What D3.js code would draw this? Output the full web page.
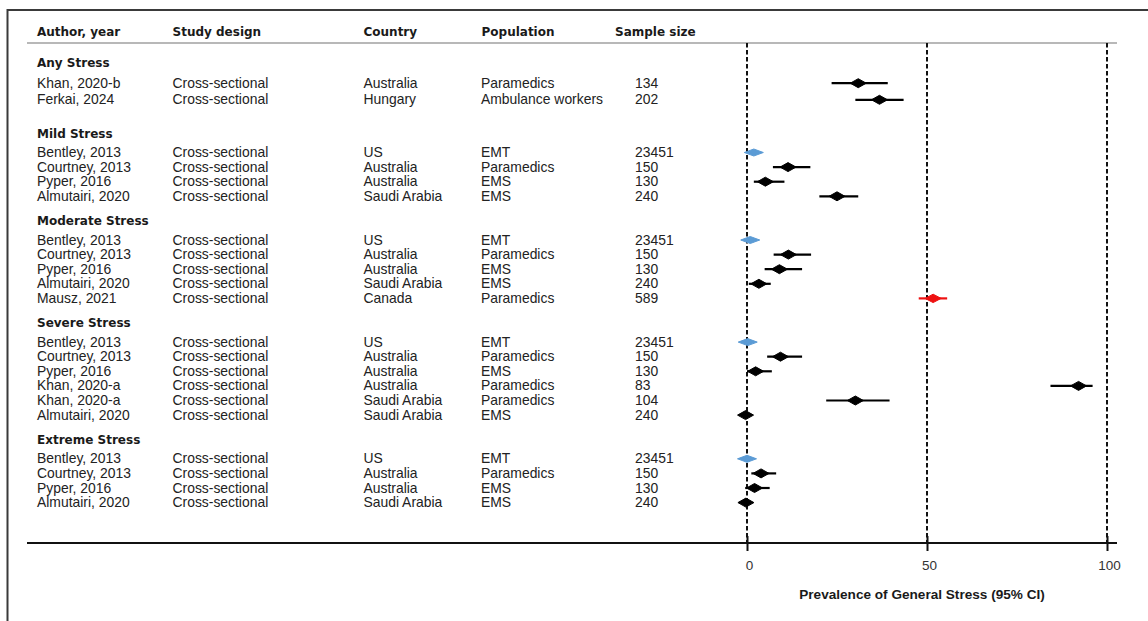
<!DOCTYPE html>
<html>
<head>
<meta charset="utf-8">
<script src="https://cdn.jsdelivr.net/npm/d3@7"></script>
<style>
  body { margin: 0; background: #fff; }
  svg { display: block; }
</style>
</head>
<body>
<svg id="chart" width="1148" height="621"></svg>
<script>
// ---- Data -----------------------------------------------------------
const columnHeaders = ["Author, year", "Study design", "Country", "Population", "Sample size"];
const sections = ["Any Stress", "Mild Stress", "Moderate Stress", "Severe Stress", "Extreme Stress"];

// section index of every study row
const studySection = [0, 0, 1, 1, 1, 1, 2, 2, 2, 2, 2, 3, 3, 3, 3, 3, 3, 4, 4, 4, 4];
const authors = [
  "Khan, 2020-b", "Ferkai, 2024",
  "Bentley, 2013", "Courtney, 2013", "Pyper, 2016", "Almutairi, 2020",
  "Bentley, 2013", "Courtney, 2013", "Pyper, 2016", "Almutairi, 2020", "Mausz, 2021",
  "Bentley, 2013", "Courtney, 2013", "Pyper, 2016", "Khan, 2020-a", "Khan, 2020-a", "Almutairi, 2020",
  "Bentley, 2013", "Courtney, 2013", "Pyper, 2016", "Almutairi, 2020"
];
const designs = authors.map(() => "Cross-sectional");
const countries = [
  "Australia", "Hungary",
  "US", "Australia", "Australia", "Saudi Arabia",
  "US", "Australia", "Australia", "Saudi Arabia", "Canada",
  "US", "Australia", "Australia", "Australia", "Saudi Arabia", "Saudi Arabia",
  "US", "Australia", "Australia", "Saudi Arabia"
];
const populations = [
  "Paramedics", "Ambulance workers",
  "EMT", "Paramedics", "EMS", "EMS",
  "EMT", "Paramedics", "EMS", "EMS", "Paramedics",
  "EMT", "Paramedics", "EMS", "Paramedics", "Paramedics", "EMS",
  "EMT", "Paramedics", "EMS", "EMS"
];
const sampleSizes = [
  134, 202,
  23451, 150, 130, 240,
  23451, 150, 130, 240, 589,
  23451, 150, 130, 83, 104, 240,
  23451, 150, 130, 240
];
// prevalence (%) with 95% confidence interval
const estimates = [
  30.9, 36.8,
  1.9, 11.4, 5.1, 25.0,
  0.9, 11.5, 9.0, 3.3, 51.7,
  0.2, 9.3, 2.4, 92.1, 30.1, -0.4,
  0.0, 3.9, 2.1, -0.3
];
const lowerCI = [
  23.5, 30.1,
  1.5, 7.2, 1.9, 20.1,
  0.5, 7.4, 4.9, 0.5, 47.7,
  -0.2, 5.6, 0.0, 84.3, 22.0, -1.2,
  -0.4, 1.2, -0.5, -1.0
];
const upperCI = [
  39.1, 43.5,
  2.3, 17.6, 10.4, 30.9,
  1.3, 17.8, 15.3, 6.6, 55.6,
  0.6, 15.3, 6.9, 96.0, 39.6, 0.5,
  0.4, 8.1, 6.3, 0.5
];
// marker style per study: "std", "large" (very large sample) or "flag"
const markerKind = [
  "std", "std",
  "large", "std", "std", "std",
  "large", "std", "std", "std", "flag",
  "large", "std", "std", "std", "std", "std",
  "large", "std", "std", "std"
];
const axisTicks = [0, 50, 100];
const axisTitle = "Prevalence of General Stress (95% CI)";

// ---- Layout ---------------------------------------------------------
const svg = d3.select("#chart");
const colX = [37, 172.5, 363.5, 481, 635];
const headerX = [37, 172.5, 363.5, 481.5, 615];
const ruleLeft = 27, ruleRight = 1117;
const headerY = 32, headerRuleY = 43, axisY = 543;

const x = d3.scaleLinear().domain([0, 100]).range([747, 1107]);

// vertical positions: section title, then its study rows
const sectionY = [];
const rowY = [];
{
  let y = 62.7;
  sections.forEach((s, si) => {
    sectionY[si] = y;
    const first = si === 0;
    y += first ? 20 : 18.7;
    const idx = studySection.map((v, i) => v === si ? i : -1).filter(i => i >= 0);
    idx.forEach((i, k) => {
      rowY[i] = y;
      if (k < idx.length - 1) y += first ? 16.6 : 14.6;
    });
    y += first ? 34 : 25;
  });
}

const textFont = "'Liberation Sans', Arial, sans-serif";
const boldFont = "'DejaVu Sans', Verdana, sans-serif";

// outer frame (top and left edges)
svg.append("line").attr("x1", 7).attr("x2", 1148).attr("y1", 10).attr("y2", 10)
  .attr("stroke", "#3a3a3a").attr("stroke-width", 2);
svg.append("line").attr("x1", 7.5).attr("x2", 7.5).attr("y1", 9).attr("y2", 621)
  .attr("stroke", "#3a3a3a").attr("stroke-width", 2);

// column headers
svg.append("g").selectAll("text").data(columnHeaders).join("text")
  .attr("x", (d, i) => headerX[i]).attr("y", headerY).attr("dy", "0.36em")
  .attr("font-family", boldFont).attr("font-weight", "bold").attr("font-size", 12)
  .attr("fill", "#1a1a1a").text(d => d);

svg.append("line").attr("x1", ruleLeft).attr("x2", ruleRight)
  .attr("y1", headerRuleY).attr("y2", headerRuleY)
  .attr("stroke", "#b8b8b8").attr("stroke-width", 2);

// reference lines at the axis ticks
svg.append("g").selectAll("line").data(axisTicks).join("line")
  .attr("x1", d => x(d)).attr("x2", d => x(d))
  .attr("y1", headerRuleY).attr("y2", axisY)
  .attr("stroke", "#111").attr("stroke-width", 2)
  .attr("stroke-dasharray", "4.5,2.5");

// section titles
svg.append("g").selectAll("text").data(sections).join("text")
  .attr("x", colX[0]).attr("y", (d, i) => sectionY[i]).attr("dy", "0.36em")
  .attr("font-family", boldFont).attr("font-weight", "bold").attr("font-size", 12)
  .attr("fill", "#1a1a1a").text(d => d);

// study table
const columns = [authors, designs, countries, populations, sampleSizes];
const table = svg.append("g").attr("font-family", textFont).attr("font-size", 13.9).attr("fill", "#222");
columns.forEach((col, c) => {
  table.append("g").selectAll("text").data(col).join("text")
    .attr("x", colX[c]).attr("y", (d, i) => rowY[i]).attr("dy", "0.36em")
    .text(d => d);
});

// forest plot marks
const colour = { std: "#000", large: "#5b9bd5", flag: "#ee1111" };
const half = { std: [8, 4.5], large: [9.5, 3.5], flag: [8, 4.2] };
const marks = svg.append("g");
estimates.forEach((v, i) => {
  const k = markerKind[i];
  const cy = rowY[i] + 0.5;
  marks.append("line")
    .attr("x1", x(lowerCI[i])).attr("x2", x(upperCI[i]))
    .attr("y1", cy).attr("y2", cy)
    .attr("stroke", colour[k]).attr("stroke-width", 2.2);
  const cx = x(v), [w, h] = half[k];
  marks.append("path")
    .attr("d", `M${cx - w},${cy}L${cx},${cy - h}L${cx + w},${cy}L${cx},${cy + h}Z`)
    .attr("fill", colour[k]).attr("stroke", colour[k])
    .attr("stroke-width", 1).attr("stroke-linejoin", "round");
});

// x axis
const axis = svg.append("g").attr("transform", `translate(0,${axisY})`)
  .call(d3.axisBottom(x).tickValues(axisTicks).tickSize(8).tickPadding(9));
axis.select(".domain").remove();
axis.selectAll(".tick line").attr("y1", -7).attr("y2", 8)
  .attr("stroke", "#111").attr("stroke-width", 2);
axis.selectAll(".tick text").attr("font-family", textFont).attr("font-size", 13.5)
  .attr("fill", "#333").attr("dx", 2);
axis.insert("line", ":first-child").attr("x1", ruleLeft).attr("x2", ruleRight)
  .attr("y1", 0).attr("y2", 0).attr("stroke", "#111").attr("stroke-width", 2);

svg.append("text").attr("x", 922).attr("y", 594).attr("dy", "0.36em")
  .attr("text-anchor", "middle")
  .attr("font-family", textFont).attr("font-weight", "bold").attr("font-size", 13.6)
  .attr("fill", "#1a1a1a").text(axisTitle);
</script>
</body>
</html>
